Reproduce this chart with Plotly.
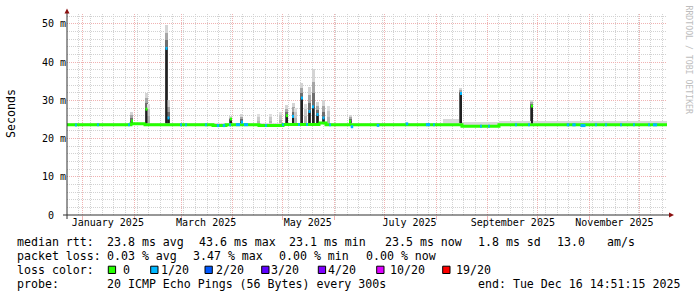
import plotly.graph_objects as go
import pandas as pd

# ---------------- data ----------------
X_START = "2024-12-22 12:29"
X_END = "2025-12-17 12:29"

# stepped baseline median RTT (ms)
base_dates = ["2024-12-22 12:29", "2025-01-29 22:00", "2025-02-07 08:00", "2025-03-20 03:00",
              "2025-03-27 22:00", "2025-04-16 17:00", "2025-05-01 03:00", "2025-05-22 17:00",
              "2025-05-26 22:00", "2025-08-16 12:00", "2025-09-07 17:00", "2025-12-17 12:29"]
base_levels = [23.65, 23.85, 23.65, 23.40, 23.65, 23.45, 23.70, 24.10, 23.65, 23.20, 23.60, 23.60]

# light smoke band just above the median line (ms)
band_dates = ["2024-12-22 12:29", "2025-08-05 03:00", "2025-08-14 17:00", "2025-08-16 12:00",
              "2025-09-07 17:00", "2025-12-17 12:29"]
band_tops = [24.0, 25.1, 24.1, 24.35, 24.6, 24.6]

# periods with 1/20 packet loss on the median line
cyan_dates = ["2024-12-27 22:00", "2025-01-10 03:00", "2025-01-28 17:00", "2025-02-28 22:00",
              "2025-03-03 22:00", "2025-03-15 22:00", "2025-03-23 03:00", "2025-03-26 17:00",
              "2025-03-30 08:00", "2025-04-04 03:00", "2025-04-08 22:00", "2025-04-20 22:00",
              "2025-05-01 03:00", "2025-05-10 17:00", "2025-05-15 12:00", "2025-05-29 08:00",
              "2025-06-11 12:00", "2025-06-27 03:00", "2025-07-14 12:00", "2025-07-27 03:00",
              "2025-07-30 17:00", "2025-08-27 22:00", "2025-09-01 17:00", "2025-09-17 22:00",
              "2025-09-25 17:00", "2025-10-19 03:00", "2025-10-22 17:00", "2025-10-28 03:00",
              "2025-11-04 22:00", "2025-11-10 22:00", "2025-11-19 22:00", "2025-11-27 17:00",
              "2025-12-06 17:00", "2025-12-10 08:00"]
cyan_days = [1, 1, 1, 1, 1, 1, 1.5, 1.5, 1, 2.5, 2.5, 1, 1, 1, 1, 1, 1.5,
             1.5, 1.5, 2.5, 1, 1, 1, 1, 1, 1.5, 2, 3, 1, 1, 1, 1, 1, 2.5]
cyan_levels = [23.55, 23.65, 23.65, 23.65, 23.65, 23.65, 23.40, 23.40, 23.65, 23.65, 23.65, 23.45,
               23.60, 23.70, 23.70, 23.65, 23.10, 23.45, 23.85, 23.65, 23.65, 23.20, 23.20, 23.60,
               23.60, 23.60, 23.60, 23.40, 23.60, 23.60, 23.60, 23.60, 23.60, 23.60]

# latency spikes: median value, top of smoke, loss class (0 = none, 1 = 1/20)
spike_dates = ["2025-01-30 12:00", "2025-02-08 05:00", "2025-02-20 05:00", "2025-02-21 10:00",
               "2025-03-30 22:00", "2025-04-06 12:00", "2025-05-03 12:00", "2025-05-07 03:00",
               "2025-05-12 12:00", "2025-05-17 00:30", "2025-05-19 03:00", "2025-05-21 20:00",
               "2025-05-25 10:00", "2025-06-10 08:00", "2025-08-15 22:00", "2025-09-27 12:00"]
spike_median = [24.6, 27.7, 43.6, 25.4, 25.1, 24.3, 26.0, 25.8, 30.6, 27.1, 28.3, 26.3, 25.4, 24.5, 31.8, 28.5]
spike_smoke = [27.0, 32.0, 49.8, 30.0, 25.9, 26.5, 28.8, 29.4, 34.6, 33.6, 38.3, 29.7, 30.2, 26.3, 33.3, 30.2]
spike_loss = [0, 0, 1, 1, 0, 1, 0, 1, 1, 1, 1, 1, 1, 0, 1, 0]

# smoke-only columns (no median jump)
puff_dates = ["2025-02-09 10:00", "2025-04-16 17:00", "2025-04-23 08:00", "2025-04-29 08:00",
              "2025-05-08 15:00", "2025-05-14 08:00", "2025-05-28 03:00"]
puff_tops = [29.0, 26.5, 26.4, 27.0, 28.1, 29.0, 28.5]

y_tick_vals = [0, 10, 20, 30, 40, 50]
y_tick_text = ["0\u00a0\u00a0", "10 m", "20 m", "30 m", "40 m", "50 m"]
month_label_dates = ["2025-01-16", "2025-03-16", "2025-05-16", "2025-07-16", "2025-09-16", "2025-11-16"]
month_labels = ["January 2025", "March 2025", "May 2025", "July 2025", "September 2025", "November 2025"]

rtt_stats = ["23.8 ms avg", "43.6 ms max", "23.1 ms min", "23.5 ms now", "1.8 ms sd", "13.0", "am/s"]
loss_stats = ["0.03 % avg", "3.47 % max", "0.00 % min", "0.00 % now"]
loss_labels = ["0", "1/20", "2/20", "3/20", "4/20", "10/20", "19/20"]
loss_colors = ["#26ff00", "#00b8ff", "#0059ff", "#5e00ff", "#7e00ff", "#dd00ff", "#ff0000"]
probe_text = "20 ICMP Echo Pings (56 Bytes) every 300s"
end_text = "end: Tue Dec 16 14:51:15 2025"

# ---------------- styling / layout constants ----------------
FONT = "DejaVu Sans Mono"
FS = 11.6
AFS = 10.0
PL, PR, PT, PB = 67, 667, 14, 215      # plot area in pixels
W, H = 697, 297
GRID = "#d2d2d2"
MGRID = "#f0b2b2"
AXIS = "#303030"
ARROW = "#8b1010"
GREEN, CYAN = loss_colors[0], loss_colors[1]
DARK = "#202020"


def px(x, y):
    return (x - PL) / (PR - PL), (PB - y) / (PB - PT)


bd = pd.to_datetime(base_dates)


def base_at(t):
    i = bd.searchsorted(pd.Timestamp(t), side="right") - 1
    return base_levels[max(i, 0)]


DAY = pd.Timedelta(days=1)
BARW = 1.8 * 86400000

fig = go.Figure()

# ---- smoke columns (bars) ----
sd = pd.to_datetime(spike_dates)
sb = [base_at(t) for t in sd]
fracs = [(0.0, 0.35, "#6e6e6e"), (0.35, 0.65, "#a6a6a6"), (0.65, 1.0, "#d4d4d4")]
fig.add_trace(go.Bar(x=sd, base=sb, y=[m - b for m, b in zip(spike_median, sb)],
                     width=BARW, marker=dict(color="#5a5a5a", line=dict(width=0)), hoverinfo="skip"))
for f0, f1, col in fracs:
    fig.add_trace(go.Bar(x=sd,
                         base=[m + (s - m) * f0 for m, s in zip(spike_median, spike_smoke)],
                         y=[(s - m) * (f1 - f0) for m, s in zip(spike_median, spike_smoke)],
                         width=BARW, marker=dict(color=col, line=dict(width=0)), hoverinfo="skip"))
pd_ = pd.to_datetime(puff_dates)
pb = [base_at(t) for t in pd_]
for f0, f1, col in [(0.0, 0.4, "#b4b4b4"), (0.4, 0.75, "#c8c8c8"), (0.75, 1.0, "#dedede")]:
    fig.add_trace(go.Bar(x=pd_,
                         base=[b + (s - b) * f0 for b, s in zip(pb, puff_tops)],
                         y=[(s - b) * (f1 - f0) for b, s in zip(pb, puff_tops)],
                         width=BARW, marker=dict(color=col, line=dict(width=0)), hoverinfo="skip"))

# ---- smoke band above the median ----
fig.add_trace(go.Scatter(x=base_dates, y=base_levels, mode="lines", line=dict(width=0, shape="hv"),
                         hoverinfo="skip"))
fig.add_trace(go.Scatter(x=band_dates, y=band_tops, mode="lines", line=dict(width=0, shape="hv"),
                         fill="tonexty", fillcolor="#d8d8d8", hoverinfo="skip"))

# ---- median line, loss 0 ----
fig.add_trace(go.Scatter(x=base_dates, y=base_levels, mode="lines",
                         line=dict(color=GREEN, width=3, shape="hv"), hoverinfo="skip"))

# ---- median line, loss 1/20 periods ----
cx, cy = [], []
for t, d, v in zip(pd.to_datetime(cyan_dates), cyan_days, cyan_levels):
    cx += [t - DAY * d / 2, t + DAY * d / 2, None]
    cy += [v, v, None]
fig.add_trace(go.Scatter(x=cx, y=cy, mode="lines", line=dict(color=CYAN, width=3), hoverinfo="skip"))

# ---- dark median jumps ----
kx, ky = [], []
for t, b, m in zip(sd, sb, spike_median):
    kx += [t, t, None]
    ky += [b + 0.4, m, None]
fig.add_trace(go.Scatter(x=kx, y=ky, mode="lines", line=dict(color=DARK, width=2), hoverinfo="skip"))

# ---- coloured median at the spike tops ----
for cls, col in [(0, GREEN), (1, CYAN)]:
    tx, ty = [], []
    for t, m, l in zip(sd, spike_median, spike_loss):
        if l == cls:
            tx += [t - DAY * 0.6, t + DAY * 0.6, None]
            ty += [m, m, None]
    fig.add_trace(go.Scatter(x=tx, y=ty, mode="lines", line=dict(color=col, width=3), hoverinfo="skip"))

# invisible trace on the label axis so it is drawn
fig.add_trace(go.Scatter(x=[X_START, X_END], y=[None, None], xaxis="x2", yaxis="y",
                         mode="lines", hoverinfo="skip"))

shapes = []
# ---- axes with arrows ----
x0, y0 = px(63, 215)
x1, _ = px(670, 215)
shapes.append(dict(type="line", xref="paper", yref="paper", x0=x0, x1=x1, y0=0, y1=0,
                   line=dict(color=AXIS, width=1)))
xa, ya0 = px(67, 219)
_, ya1 = px(67, 12)
shapes.append(dict(type="line", xref="paper", yref="paper", x0=xa, x1=xa, y0=ya0, y1=ya1,
                   line=dict(color=AXIS, width=1)))


def tri(pts):
    p = [px(a, b) for a, b in pts]
    return "M{},{} L{},{} L{},{} Z".format(p[0][0], p[0][1], p[1][0], p[1][1], p[2][0], p[2][1])


shapes.append(dict(type="path", xref="paper", yref="paper", path=tri([(669, 212.5), (674, 215), (669, 217.5)]),
                   fillcolor=ARROW, line=dict(width=0)))
shapes.append(dict(type="path", xref="paper", yref="paper", path=tri([(64.5, 13.5), (67, 8.5), (69.5, 13.5)]),
                   fillcolor=ARROW, line=dict(width=0)))

# ---- legend boxes ----
box_x = [108.3, 150.7, 205.0, 261.7, 318.3, 376.7, 442.7]
for bx, col in zip(box_x, loss_colors):
    a0, b0 = px(bx, 273.5)
    a1, b1 = px(bx + 7.3, 266.2)
    shapes.append(dict(type="rect", xref="paper", yref="paper", x0=a0, x1=a1, y0=b0, y1=b1,
                       fillcolor=col, line=dict(color="black", width=1)))

# ---- text ----
ann = []


def txt(s, x, y, size=FS, color="black", angle=0, xanchor="left"):
    a, b = px(x, y)
    ann.append(dict(text=s, x=a, y=b, xref="paper", yref="paper", showarrow=False,
                    xanchor=xanchor, yanchor="middle", textangle=angle, borderpad=0, borderwidth=0,
                    font=dict(family=FONT, size=size, color=color)))


L1, L2, L3, L4 = 241.5, 255.5, 269.5, 283.5
txt("median rtt:", 16.5, L1)
for s, x in zip(rtt_stats, [107, 199.3, 288.6, 385.3, 478, 557, 606.5]):
    txt(s, x, L1)
txt("packet loss:", 16.5, L2)
for s, x in zip(loss_stats, [107, 192.6, 279.3, 366]):
    txt(s, x, L2)
txt("loss color:", 16.5, L3)
for s, x in zip(loss_labels, [122.5, 160.5, 216.3, 271, 327.5, 390.4, 456]):
    txt(s, x, L3)
txt("probe:", 16.5, L4)
txt(probe_text, 107, L4)
txt(end_text, 477.5, L4)

txt("Seconds", 11, 114, angle=-90, xanchor="center")
txt("RRDTOOL / TOBI OETIKER", 688.5, 60, size=8.2, color="#bdbdbd", angle=90, xanchor="center")

month_starts = list(pd.date_range("2025-01-01", X_END, freq="MS"))
sundays = list(pd.date_range(X_START, X_END, freq="W-SUN"))

fig.update_layout(
    width=W, height=H, margin=dict(l=PL, r=W - PR, t=PT, b=H - PB),
    paper_bgcolor="white", plot_bgcolor="white", showlegend=False,
    barmode="overlay", bargap=0, shapes=shapes, annotations=ann,
    xaxis=dict(type="date", range=[X_START, X_END], zeroline=False, showline=False,
               tickmode="array", tickvals=month_starts, ticktext=[""] * len(month_starts),
               showgrid=True, gridcolor=MGRID, gridwidth=1, griddash="1px,1px",
               ticks="outside", ticklen=4, tickcolor=MGRID, tickwidth=1, fixedrange=True,
               minor=dict(tickmode="array", tickvals=sundays,
                          showgrid=True, gridcolor=GRID, gridwidth=1, griddash="1px,1px", ticks="")),
    xaxis2=dict(type="date", overlaying="x", matches="x", anchor="y", side="bottom",
                range=[X_START, X_END], showgrid=False, zeroline=False, showline=False,
                tickmode="array", tickvals=month_label_dates, ticktext=month_labels, ticks="",
                tickfont=dict(family=FONT, size=AFS, color="black"), fixedrange=True),
    yaxis=dict(range=[0, 52.6], tickmode="array", tickvals=y_tick_vals, ticktext=y_tick_text,
               showgrid=True, gridcolor=MGRID, gridwidth=1, griddash="1px,1px", zeroline=False,
               showline=False, ticks="", tickfont=dict(family=FONT, size=AFS, color="black"),
               fixedrange=True,
               minor=dict(dtick=2, tick0=0, showgrid=True, gridcolor=GRID, gridwidth=1,
                          griddash="1px,1px", ticks="")),
)

fig.write_html("out.html")
